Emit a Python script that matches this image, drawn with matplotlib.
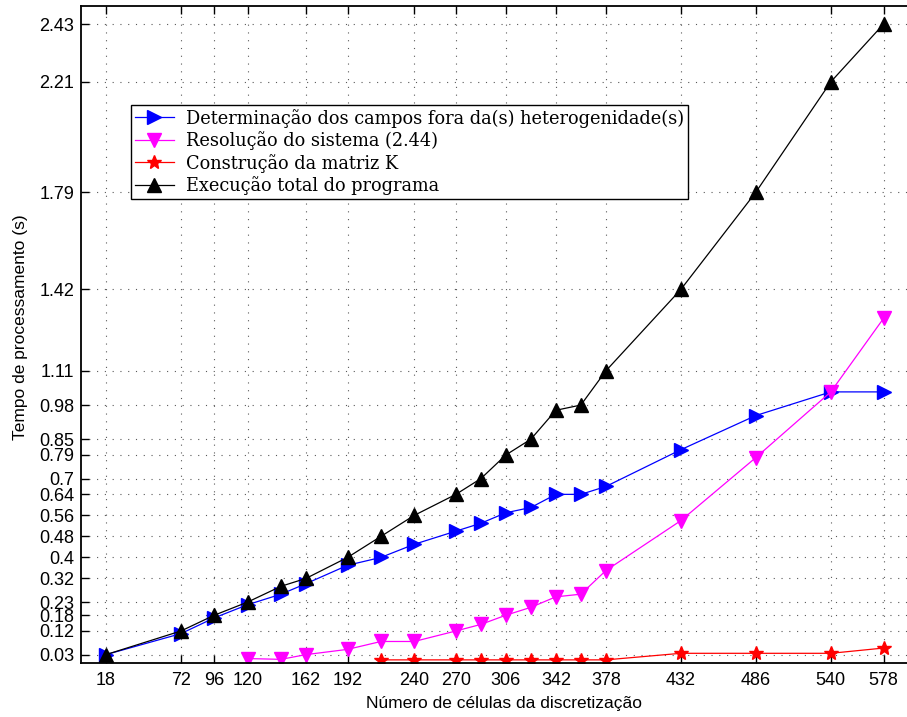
import matplotlib
matplotlib.use("Agg")
import matplotlib.pyplot as plt

# ---- data ----
x_all = [18, 72, 96, 120, 144, 162, 192, 216, 240, 270, 288, 306, 324, 342, 360, 378, 432, 486, 540, 578]
total = [0.03, 0.12, 0.18, 0.23, 0.29, 0.32, 0.40, 0.48, 0.56, 0.64, 0.70, 0.79, 0.85, 0.96, 0.98, 1.11, 1.42, 1.79, 2.21, 2.43]
campos = [0.03, 0.11, 0.17, 0.22, 0.26, 0.30, 0.37, 0.40, 0.45, 0.50, 0.53, 0.57, 0.59, 0.64, 0.64, 0.67, 0.81, 0.94, 1.03, 1.03]
x_sist = [120, 144, 162, 192, 216, 240, 270, 288, 306, 324, 342, 360, 378, 432, 486, 540, 578]
sistema = [0.015, 0.012, 0.03, 0.05, 0.08, 0.08, 0.12, 0.145, 0.18, 0.21, 0.25, 0.26, 0.35, 0.54, 0.78, 1.03, 1.31]
x_mat = [216, 240, 270, 288, 306, 324, 342, 360, 378, 432, 486, 540, 578]
matriz = [0.01, 0.01, 0.01, 0.01, 0.01, 0.01, 0.01, 0.01, 0.01, 0.035, 0.035, 0.035, 0.055]

xticks = [18, 72, 96, 120, 162, 192, 240, 270, 306, 342, 378, 432, 486, 540, 578]
yticks = [0.03, 0.12, 0.18, 0.23, 0.32, 0.4, 0.48, 0.56, 0.64, 0.7, 0.79, 0.85, 0.98, 1.11, 1.42, 1.79, 2.21, 2.43]
ytick_labels = ["0.03", "0.12", "0.18", "0.23", "0.32", "0.4", "0.48", "0.56", "0.64", "0.7",
                "0.79", "0.85", "0.98", "1.11", "1.42", "1.79", "2.21", "2.43"]

labels = ["Determinação dos campos fora da(s) heterogenidade(s)",
          "Resolução do sistema (2.44)",
          "Construção da matriz K",
          "Execução total do programa"]

plt.rcParams['font.family'] = ['Liberation Sans', 'DejaVu Sans']

fig = plt.figure(figsize=(9.07, 7.17), dpi=100)
W, H = 907, 717
left, right, top, bottom = 81, 928, 5.7, 662.5
ax = fig.add_axes([left / W, (H - bottom) / H, (right - left) / W, (bottom - top) / H])

lw = 0.9
ax.plot(x_all, campos, color=(0, 0, 1), marker='>', ms=10, lw=lw, label=labels[0])
ax.plot(x_sist, sistema, color=(1, 0, 1), marker='v', ms=10, lw=lw, label=labels[1])
ax.plot(x_mat, matriz, color=(1, 0, 0), marker='*', ms=10, lw=lw, label=labels[2])
ax.plot(x_all, total, color='black', marker='^', ms=10, lw=lw, label=labels[3])

ax.set_xlim(0, 610)
ax.set_ylim(0, 2.5)
ax.set_xticks(xticks)
ax.set_xticklabels([str(v) for v in xticks])
ax.set_yticks(yticks)
ax.set_yticklabels(ytick_labels)
ax.tick_params(direction='in', length=6, width=1, labelsize=13, top=True, right=True)
ax.tick_params(axis='x', pad=7)
ax.tick_params(axis='y', pad=5)
for s in ax.spines.values():
    s.set_linewidth(1.3)

ax.grid(True, color='0.35', linestyle=(0, (1, 6)), linewidth=0.8)

ax.set_xlabel("Número de células da discretização", fontsize=12.5, labelpad=5)
ax.set_ylabel("Tempo de processamento (s)", fontsize=12.5)
ax.yaxis.set_label_coords(-0.062, 0.51)

leg = ax.legend(loc='upper left', bbox_to_anchor=((131 - left) / (right - left), 1 - (105 - top) / (bottom - top)),
                prop={'family': 'DejaVu Serif', 'size': 12.8}, numpoints=1, handlelength=2.2,
                handletextpad=0.7, labelspacing=0.2, borderpad=0.2, borderaxespad=0,
                fancybox=False, framealpha=1, edgecolor='black')
leg.get_frame().set_linewidth(1.0)

fig.savefig("out.png", dpi=100)
